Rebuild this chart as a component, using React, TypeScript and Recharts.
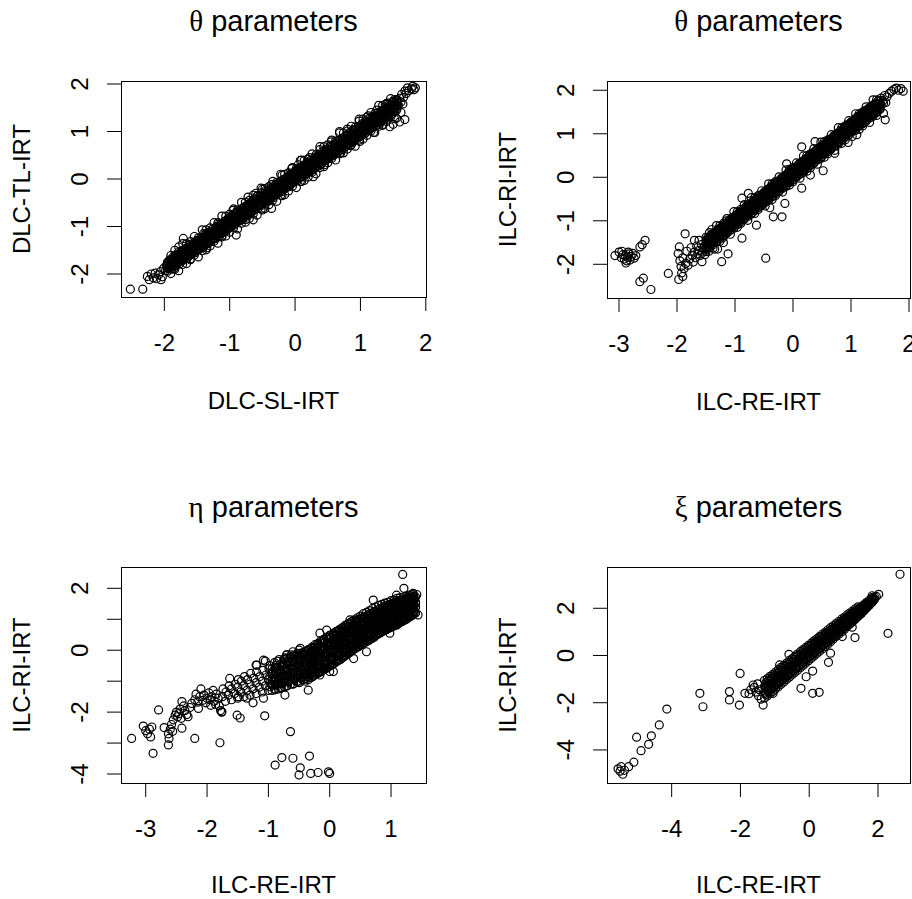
import { ScatterChart, Scatter, XAxis, YAxis } from 'recharts'

const FONT = '"Liberation Sans", Arial, Helvetica, sans-serif'
const GREEK_FONT = '"Liberation Serif", "DejaVu Serif", serif'

type Pt = [number, number]
type Col = [number, number[]]

// [x, y] pairs (loose points and the edges of the bands)

const THETA_DLC: Pt[] = [
  [-2.52, -2.32], [-2.33, -2.32], [-2.26, -2.05], [-2.23, -2.12], [-2.2, -2.0], [-2.17, -2.08], [-2.14, -1.98],
  [-2.12, -2.1], [-2.09, -2.02], [-2.06, -1.95], [-2.03, -2.06], [-2.01, -1.88], [-2.05, -2.12],
  [-1.71, -1.25], [-1.78, -1.43], [-1.75, -1.55], [-1.85, -1.88], [-1.6, -1.68], [-1.35, -1.45], [-1.12, -1.2],
  [-0.9, -1.18], [-0.64, -0.86], [-0.36, -0.62], [-0.75, -0.85], [-0.5, -0.65], [-0.2, -0.35], [0.1, -0.05],
  [0.28, 0.05], [0.45, 0.3], [0.7, 0.55], [0.85, 0.7], [0.99, 0.79], [1.2, 0.98], [1.35, 1.15], [1.45, 1.1],
  [1.5, 1.15], [1.55, 1.28], [1.6, 1.2], [1.62, 1.4], [1.68, 1.25],
  [-1.62, -1.38], [-1.4, -1.15], [-1.18, -0.92], [-0.95, -0.66], [-0.72, -0.38], [-0.6, -0.3], [-0.5, -0.22],
  [-0.36, -0.12], [-0.2, 0.08], [-0.05, 0.22], [0.05, 0.3], [0.1, 0.4], [0.22, 0.45], [0.38, 0.62],
  [0.55, 0.78], [0.68, 1.0], [0.8, 1.05], [0.98, 1.22], [1.12, 1.33], [1.25, 1.45], [1.38, 1.57],
  [1.42, 1.6], [1.5, 1.63], [1.55, 1.65],
  [1.6, 1.7], [1.63, 1.78], [1.66, 1.72], [1.68, 1.85], [1.7, 1.8], [1.72, 1.92], [1.74, 1.86], [1.78, 1.9],
  [1.8, 1.95], [1.82, 1.88], [1.84, 1.92], [1.62, 1.62], [1.58, 1.55], [1.65, 1.58],
  [-1.98, -1.93], [-1.97, -1.82], [-1.95, -1.76], [-1.93, -1.87], [-1.91, -1.78], [-1.89, -1.69], [-1.87, -1.83],
  [-1.85, -1.72], [-1.83, -1.6], [-1.81, -1.79], [-1.79, -1.67], [-1.77, -1.57], [-1.75, -1.71], [-1.73, -1.6],
  [-1.71, -1.5], [-1.69, -1.67], [-1.67, -1.54], [-1.65, -1.46], [-1.63, -1.62], [-1.61, -1.51], [-1.59, -1.42],
  [-1.57, -1.56], [-1.55, -1.45], [-1.53, -1.34], [-1.51, -1.51], [-1.49, -1.39], [-1.47, -1.29], [-1.45, -1.46],
  [-1.43, -1.34], [-1.41, -1.25], [-1.39, -1.41], [-1.37, -1.28], [-1.35, -1.17], [-1.33, -1.36], [-1.31, -1.23],
  [-1.29, -1.12], [-1.27, -1.29], [-1.25, -1.16], [-1.23, -1.07], [-1.21, -1.25], [-1.19, -1.11], [-1.17, -0.99],
  [-1.15, -1.19], [-1.13, -1.04], [-1.11, -0.94], [-1.09, -1.11], [-1.07, -0.98], [-1.05, -0.87], [-1.03, -1.06],
  [-1.01, -0.92], [-0.99, -0.81], [-0.97, -0.99], [-0.95, -0.86], [-0.93, -0.75], [-0.91, -0.93], [-0.89, -0.79],
  [-0.87, -0.69], [-0.85, -0.88], [-0.83, -0.74], [-0.81, -0.62], [-0.79, -0.81], [-0.77, -0.67], [-0.75, -0.57],
  [-0.73, -0.75], [-0.71, -0.61], [-0.69, -0.51], [-0.67, -0.7], [-0.65, -0.56], [-0.63, -0.43], [-0.61, -0.63],
  [-0.59, -0.49], [-0.57, -0.35], [-0.55, -0.56], [-0.53, -0.43], [-0.51, -0.29], [-0.49, -0.51], [-0.47, -0.37],
  [-0.45, -0.24], [-0.43, -0.46], [-0.41, -0.32], [-0.39, -0.21], [-0.37, -0.41], [-0.35, -0.27], [-0.33, -0.17],
  [-0.31, -0.34], [-0.29, -0.21], [-0.27, -0.11], [-0.25, -0.29], [-0.23, -0.15], [-0.21, -0.04], [-0.19, -0.23],
  [-0.17, -0.1], [-0.15, 0.01], [-0.13, -0.17], [-0.11, -0.03], [-0.09, 0.08], [-0.07, -0.12], [-0.05, 0.02],
  [-0.03, 0.13], [-0.01, -0.05], [0.01, 0.08], [0.03, 0.19], [0.05, 0.0], [0.07, 0.13], [0.09, 0.23],
  [0.11, 0.05], [0.13, 0.18], [0.15, 0.29], [0.17, 0.11], [0.19, 0.23], [0.21, 0.34], [0.23, 0.16],
  [0.25, 0.29], [0.27, 0.38], [0.29, 0.21], [0.31, 0.34], [0.33, 0.46], [0.35, 0.27], [0.37, 0.4],
  [0.39, 0.51], [0.41, 0.33], [0.43, 0.46], [0.45, 0.55], [0.47, 0.39], [0.49, 0.52], [0.51, 0.62],
  [0.53, 0.44], [0.55, 0.58], [0.57, 0.69], [0.59, 0.5], [0.61, 0.64], [0.63, 0.74], [0.65, 0.56],
  [0.67, 0.69], [0.69, 0.81], [0.71, 0.61], [0.73, 0.75], [0.75, 0.85], [0.77, 0.68], [0.79, 0.81],
  [0.81, 0.92], [0.83, 0.73], [0.85, 0.87], [0.87, 0.96], [0.89, 0.79], [0.91, 0.92], [0.93, 1.04],
  [0.95, 0.85], [0.97, 0.99], [0.99, 1.09], [1.01, 0.91], [1.03, 1.04], [1.05, 1.13], [1.07, 0.96],
  [1.09, 1.1], [1.11, 1.2], [1.13, 1.02], [1.15, 1.15], [1.17, 1.24], [1.19, 1.08], [1.21, 1.21],
  [1.23, 1.32], [1.25, 1.13], [1.27, 1.27], [1.29, 1.36], [1.31, 1.19], [1.33, 1.33], [1.35, 1.44],
  [1.37, 1.26], [1.39, 1.38], [1.41, 1.48], [1.43, 1.31], [1.45, 1.44], [1.47, 1.55], [1.49, 1.37],
  [1.51, 1.49], [1.53, 1.57], [1.55, 1.44], [1.57, 1.6],
]

// dense core: x, then the y values stacked at that x
const THETA_DLC_BAND: Col[] = [
  [-1.95, [-1.94, -1.88, -1.82, -1.75]], [-1.92, [-1.89, -1.83, -1.76, -1.7]], [-1.89, [-1.9, -1.83, -1.77, -1.71]],
  [-1.86, [-1.84, -1.78, -1.71, -1.63]], [-1.83, [-1.83, -1.77, -1.71, -1.64]], [-1.8, [-1.78, -1.72, -1.65, -1.59]],
  [-1.77, [-1.79, -1.72, -1.66, -1.6]], [-1.74, [-1.73, -1.67, -1.6, -1.52]], [-1.71, [-1.71, -1.65, -1.59, -1.52]],
  [-1.68, [-1.66, -1.6, -1.53, -1.47]], [-1.65, [-1.67, -1.6, -1.54, -1.48]], [-1.62, [-1.61, -1.55, -1.48, -1.4]],
  [-1.59, [-1.59, -1.53, -1.47, -1.4]], [-1.56, [-1.54, -1.48, -1.41, -1.35]], [-1.53, [-1.55, -1.48, -1.42, -1.36]],
  [-1.5, [-1.5, -1.44, -1.37, -1.29]], [-1.47, [-1.48, -1.42, -1.36, -1.29]], [-1.44, [-1.43, -1.37, -1.3, -1.24]],
  [-1.41, [-1.44, -1.37, -1.31, -1.25]], [-1.38, [-1.38, -1.32, -1.25, -1.17]], [-1.35, [-1.36, -1.3, -1.24, -1.17]],
  [-1.32, [-1.31, -1.25, -1.18, -1.12]], [-1.29, [-1.32, -1.25, -1.19, -1.13]], [-1.26, [-1.26, -1.2, -1.13, -1.05]],
  [-1.23, [-1.24, -1.18, -1.12, -1.05]], [-1.2, [-1.19, -1.13, -1.06, -1.0]], [-1.17, [-1.21, -1.14, -1.08, -1.02]],
  [-1.14, [-1.15, -1.09, -1.02, -0.94]], [-1.11, [-1.13, -1.07, -1.01, -0.94]], [-1.08, [-1.08, -1.02, -0.95, -0.89]],
  [-1.05, [-1.09, -1.02, -0.96, -0.9]], [-1.02, [-1.03, -0.97, -0.9, -0.82]], [-0.99, [-1.01, -0.95, -0.89, -0.82]],
  [-0.96, [-0.96, -0.9, -0.83, -0.77]], [-0.93, [-0.97, -0.9, -0.84, -0.78]], [-0.9, [-0.91, -0.85, -0.78, -0.7]],
  [-0.87, [-0.89, -0.83, -0.77, -0.7]], [-0.84, [-0.85, -0.79, -0.72, -0.66]], [-0.81, [-0.86, -0.79, -0.73, -0.67]],
  [-0.78, [-0.8, -0.74, -0.67, -0.59]], [-0.75, [-0.78, -0.72, -0.66, -0.59]], [-0.72, [-0.73, -0.67, -0.6, -0.54]],
  [-0.69, [-0.74, -0.67, -0.61, -0.55]], [-0.66, [-0.68, -0.62, -0.55, -0.47]], [-0.63, [-0.66, -0.6, -0.54, -0.47]],
  [-0.6, [-0.61, -0.55, -0.48, -0.42]], [-0.57, [-0.62, -0.55, -0.49, -0.43]], [-0.54, [-0.56, -0.5, -0.43, -0.35]],
  [-0.51, [-0.55, -0.49, -0.43, -0.36]], [-0.48, [-0.5, -0.44, -0.37, -0.31]], [-0.45, [-0.51, -0.44, -0.38, -0.32]],
  [-0.42, [-0.45, -0.39, -0.32, -0.24]], [-0.39, [-0.43, -0.37, -0.31, -0.24]], [-0.36, [-0.38, -0.32, -0.25, -0.19]],
  [-0.33, [-0.39, -0.32, -0.26, -0.2]], [-0.3, [-0.33, -0.27, -0.2, -0.12]], [-0.27, [-0.31, -0.25, -0.19, -0.12]],
  [-0.24, [-0.26, -0.2, -0.13, -0.07]], [-0.21, [-0.27, -0.2, -0.14, -0.08]], [-0.18, [-0.22, -0.16, -0.09, -0.01]],
  [-0.15, [-0.2, -0.14, -0.08, -0.01]], [-0.12, [-0.15, -0.09, -0.02, 0.04]], [-0.09, [-0.16, -0.09, -0.03, 0.03]],
  [-0.06, [-0.1, -0.04, 0.03, 0.11]], [-0.03, [-0.08, -0.02, 0.04, 0.11]], [0.0, [-0.03, 0.03, 0.1, 0.16]],
  [0.03, [-0.04, 0.03, 0.09, 0.15]], [0.06, [0.02, 0.08, 0.15, 0.23]], [0.09, [0.04, 0.1, 0.16, 0.23]],
  [0.12, [0.09, 0.15, 0.22, 0.28]], [0.15, [0.08, 0.15, 0.21, 0.27]], [0.18, [0.14, 0.2, 0.27, 0.35]],
  [0.21, [0.15, 0.21, 0.27, 0.34]], [0.24, [0.2, 0.26, 0.33, 0.39]], [0.27, [0.19, 0.26, 0.32, 0.38]],
  [0.3, [0.25, 0.31, 0.38, 0.46]], [0.33, [0.27, 0.33, 0.39, 0.46]], [0.36, [0.32, 0.38, 0.45, 0.51]],
  [0.39, [0.31, 0.38, 0.44, 0.5]], [0.42, [0.37, 0.43, 0.5, 0.58]], [0.45, [0.39, 0.45, 0.51, 0.58]],
  [0.48, [0.44, 0.5, 0.57, 0.63]], [0.51, [0.43, 0.5, 0.56, 0.62]], [0.54, [0.48, 0.54, 0.61, 0.69]],
  [0.57, [0.5, 0.56, 0.62, 0.69]], [0.6, [0.55, 0.61, 0.68, 0.74]], [0.63, [0.54, 0.61, 0.67, 0.73]],
  [0.66, [0.6, 0.66, 0.73, 0.81]], [0.69, [0.62, 0.68, 0.74, 0.81]], [0.72, [0.67, 0.73, 0.8, 0.86]],
  [0.75, [0.66, 0.73, 0.79, 0.85]], [0.78, [0.72, 0.78, 0.85, 0.93]], [0.81, [0.74, 0.8, 0.86, 0.93]],
  [0.84, [0.79, 0.85, 0.92, 0.98]], [0.87, [0.77, 0.84, 0.9, 0.96]], [0.9, [0.83, 0.89, 0.96, 1.04]],
  [0.93, [0.85, 0.91, 0.97, 1.04]], [0.96, [0.9, 0.96, 1.03, 1.09]], [0.99, [0.89, 0.96, 1.02, 1.08]],
  [1.02, [0.95, 1.01, 1.08, 1.16]], [1.05, [0.97, 1.03, 1.09, 1.16]], [1.08, [1.02, 1.08, 1.15, 1.21]],
  [1.11, [1.01, 1.08, 1.14, 1.2]], [1.14, [1.07, 1.13, 1.2, 1.28]], [1.17, [1.09, 1.15, 1.21, 1.28]],
  [1.2, [1.13, 1.19, 1.26, 1.32]], [1.23, [1.12, 1.19, 1.25, 1.31]], [1.26, [1.18, 1.24, 1.31, 1.39]],
  [1.29, [1.2, 1.26, 1.32, 1.39]], [1.32, [1.25, 1.31, 1.38, 1.44]], [1.35, [1.24, 1.31, 1.37, 1.43]],
  [1.38, [1.3, 1.36, 1.43, 1.51]], [1.41, [1.32, 1.38, 1.44, 1.51]], [1.44, [1.37, 1.43, 1.5, 1.56]],
  [1.47, [1.36, 1.43, 1.49, 1.55]], [1.5, [1.42, 1.48, 1.55, 1.63]], [1.53, [1.43, 1.49, 1.55, 1.62]],
  [1.56, [1.48, 1.54, 1.61, 1.67]],
]

// ragged lower / upper fringe of the band
const THETA_DLC_EDGE: Col[] = [
  [-1.9, [-1.99, -1.61]], [-1.84, [-1.9, -1.5]], [-1.78, [-1.93, -1.53]], [-1.72, [-1.8, -1.36]], [-1.66, [-1.78, -1.36]],
  [-1.6, [-1.7, -1.32]], [-1.54, [-1.6, -1.21]], [-1.48, [-1.64, -1.24]], [-1.42, [-1.51, -1.07]], [-1.36, [-1.49, -1.07]],
  [-1.3, [-1.41, -1.03]], [-1.24, [-1.31, -0.92]], [-1.18, [-1.35, -0.95]], [-1.12, [-1.22, -0.78]], [-1.06, [-1.2, -0.78]],
  [-1.0, [-1.12, -0.74]], [-0.94, [-1.02, -0.63]], [-0.88, [-1.05, -0.65]], [-0.82, [-0.93, -0.49]], [-0.76, [-0.91, -0.49]],
  [-0.7, [-0.83, -0.45]], [-0.64, [-0.73, -0.34]], [-0.58, [-0.76, -0.36]], [-0.52, [-0.63, -0.19]], [-0.46, [-0.62, -0.2]],
  [-0.4, [-0.54, -0.16]], [-0.34, [-0.44, -0.05]], [-0.28, [-0.47, -0.07]], [-0.22, [-0.34, 0.1]], [-0.16, [-0.33, 0.1]],
  [-0.1, [-0.25, 0.13]], [-0.04, [-0.15, 0.24]], [0.02, [-0.18, 0.22]], [0.08, [-0.05, 0.39]], [0.14, [-0.03, 0.39]],
  [0.2, [0.04, 0.42]], [0.26, [0.14, 0.53]], [0.32, [0.11, 0.51]], [0.38, [0.24, 0.68]], [0.44, [0.26, 0.68]],
  [0.5, [0.34, 0.72]], [0.56, [0.43, 0.82]], [0.62, [0.4, 0.8]], [0.68, [0.53, 0.97]], [0.74, [0.55, 0.97]],
  [0.8, [0.63, 1.01]], [0.86, [0.72, 1.11]], [0.92, [0.69, 1.09]], [0.98, [0.82, 1.26]], [1.04, [0.84, 1.26]],
  [1.1, [0.92, 1.3]], [1.16, [1.01, 1.4]], [1.22, [0.98, 1.38]], [1.28, [1.11, 1.55]], [1.34, [1.13, 1.55]],
  [1.4, [1.21, 1.59]], [1.46, [1.3, 1.69]], [1.52, [1.27, 1.67]],
]

const THETA_ILC: Pt[] = [
  [-3.07, -1.8], [-3.0, -1.72], [-2.96, -1.85], [-2.93, -1.78], [-2.91, -1.88], [-2.89, -1.8], [-2.87, -1.92],
  [-2.85, -1.84], [-2.83, -1.76], [-2.81, -1.9], [-2.79, -1.82], [-2.76, -1.75], [-2.74, -1.86], [-2.71, -1.8],
  [-2.88, -1.97], [-2.95, -1.7], [-2.84, -1.72], [-2.64, -1.6], [-2.6, -1.55], [-2.55, -1.45],
  [-2.64, -2.4], [-2.58, -2.32], [-2.45, -2.58], [-2.15, -2.21],
  [-1.98, -1.75], [-1.96, -1.6], [-1.95, -1.92], [-1.93, -2.05], [-1.92, -2.2], [-1.9, -1.85], [-1.88, -2.1],
  [-1.86, -1.3], [-1.85, -1.98], [-1.83, -1.7], [-1.81, -2.02], [-1.78, -1.88], [-1.76, -1.62], [-1.74, -1.8],
  [-1.72, -1.95], [-1.7, -1.72], [-1.68, -1.85], [-1.66, -1.58], [-1.64, -1.76], [-1.62, -1.68], [-1.6, -1.8],
  [-1.58, -1.55], [-1.56, -1.72], [-1.54, -1.62], [-1.52, -1.78], [-1.97, -2.35], [-1.9, -2.28], [-1.7, -1.45],
  [-1.62, -1.45], [-1.45, -1.7], [-1.35, -1.65], [-1.4, -1.2], [-1.2, -1.5], [-1.15, -1.0],
  [1.47, 1.75], [1.52, 1.82], [1.55, 1.76], [1.58, 1.88], [1.62, 1.85], [1.66, 1.93], [1.7, 1.98], [1.74, 2.02],
  [1.78, 2.05], [1.82, 2.0], [1.86, 2.04], [1.9, 1.98], [1.56, 1.7], [1.6, 1.72],
  [1.59, 1.32], [1.56, 1.47], [0.52, 0.15], [0.15, -0.25], [-0.14, -0.6], [-0.34, -0.91], [-0.19, -0.91],
  [-0.47, -1.86], [-0.63, -1.1], [-0.88, -1.4], [-1.23, -1.94], [-1.12, -1.76], [-1.57, -1.94], [-0.88, -0.48],
  [-0.77, -0.37], [-0.11, 0.31], [0.38, 0.82], [0.15, 0.7], [0.72, 0.55], [1.1, 0.98], [0.95, 0.8],
  [-0.4, -0.7], [-1.3, -1.65], [0.3, 0.05],
  [-1.5, -1.66], [-1.48, -1.51], [-1.46, -1.4], [-1.44, -1.61], [-1.42, -1.45], [-1.4, -1.33], [-1.38, -1.55],
  [-1.36, -1.38], [-1.34, -1.26], [-1.32, -1.48], [-1.3, -1.33], [-1.28, -1.19], [-1.26, -1.42], [-1.24, -1.25],
  [-1.22, -1.13], [-1.2, -1.35], [-1.18, -1.2], [-1.16, -1.06], [-1.14, -1.28], [-1.12, -1.13], [-1.1, -1.0],
  [-1.08, -1.22], [-1.06, -1.06], [-1.04, -0.93], [-1.02, -1.16], [-1.0, -0.99], [-0.98, -0.87], [-0.96, -1.09],
  [-0.94, -0.94], [-0.92, -0.8], [-0.9, -1.03], [-0.88, -0.87], [-0.86, -0.74], [-0.84, -0.96], [-0.82, -0.81],
  [-0.8, -0.67], [-0.78, -0.9], [-0.76, -0.74], [-0.74, -0.61], [-0.72, -0.83], [-0.7, -0.68], [-0.68, -0.54],
  [-0.66, -0.77], [-0.64, -0.61], [-0.62, -0.48], [-0.6, -0.7], [-0.58, -0.55], [-0.56, -0.41], [-0.54, -0.64],
  [-0.52, -0.49], [-0.5, -0.35], [-0.48, -0.58], [-0.46, -0.42], [-0.44, -0.28], [-0.42, -0.51], [-0.4, -0.36],
  [-0.38, -0.22], [-0.36, -0.45], [-0.34, -0.29], [-0.32, -0.15], [-0.3, -0.38], [-0.28, -0.23], [-0.26, -0.09],
  [-0.24, -0.32], [-0.22, -0.16], [-0.2, -0.02], [-0.18, -0.25], [-0.16, -0.1], [-0.14, 0.04], [-0.12, -0.19],
  [-0.1, -0.03], [-0.08, 0.11], [-0.06, -0.12], [-0.04, 0.03], [-0.02, 0.17], [0.0, -0.06], [0.02, 0.1],
  [0.04, 0.23], [0.06, 0.01], [0.08, 0.16], [0.1, 0.3], [0.12, 0.07], [0.14, 0.23], [0.16, 0.36],
  [0.18, 0.14], [0.2, 0.29], [0.22, 0.43], [0.24, 0.2], [0.26, 0.36], [0.28, 0.49], [0.3, 0.27],
  [0.32, 0.42], [0.34, 0.56], [0.36, 0.33], [0.38, 0.49], [0.4, 0.62], [0.42, 0.4], [0.44, 0.55],
  [0.46, 0.69], [0.48, 0.46], [0.5, 0.62], [0.52, 0.75], [0.54, 0.53], [0.56, 0.68], [0.58, 0.82],
  [0.6, 0.59], [0.62, 0.75], [0.64, 0.88], [0.66, 0.66], [0.68, 0.81], [0.7, 0.95], [0.72, 0.72],
  [0.74, 0.88], [0.76, 1.01], [0.78, 0.79], [0.8, 0.94], [0.82, 1.08], [0.84, 0.85], [0.86, 1.01],
  [0.88, 1.14], [0.9, 0.92], [0.92, 1.07], [0.94, 1.21], [0.96, 0.98], [0.98, 1.14], [1.0, 1.27],
  [1.02, 1.05], [1.04, 1.2], [1.06, 1.34], [1.08, 1.11], [1.1, 1.27], [1.12, 1.4], [1.14, 1.18],
  [1.16, 1.33], [1.18, 1.47], [1.2, 1.24], [1.22, 1.4], [1.24, 1.53], [1.26, 1.31], [1.28, 1.46],
  [1.3, 1.58], [1.32, 1.37], [1.34, 1.52], [1.36, 1.63], [1.38, 1.43], [1.4, 1.58], [1.42, 1.68],
  [1.44, 1.5], [1.46, 1.62], [1.48, 1.7], [1.5, 1.56], [1.52, 1.66],
]

const THETA_ILC_BAND: Col[] = [
  [-1.5, [-1.64, -1.58, -1.52, -1.45]], [-1.47, [-1.58, -1.52, -1.45, -1.39]], [-1.44, [-1.59, -1.52, -1.46, -1.4]],
  [-1.41, [-1.53, -1.47, -1.4, -1.32]], [-1.38, [-1.51, -1.45, -1.39, -1.32]], [-1.35, [-1.46, -1.4, -1.33, -1.27]],
  [-1.32, [-1.46, -1.39, -1.33, -1.27]], [-1.29, [-1.4, -1.34, -1.27, -1.19]], [-1.26, [-1.38, -1.32, -1.26, -1.19]],
  [-1.23, [-1.33, -1.27, -1.2, -1.14]], [-1.2, [-1.33, -1.26, -1.2, -1.14]], [-1.17, [-1.27, -1.21, -1.14, -1.06]],
  [-1.14, [-1.25, -1.19, -1.13, -1.06]], [-1.11, [-1.2, -1.14, -1.07, -1.01]], [-1.08, [-1.21, -1.14, -1.08, -1.02]],
  [-1.05, [-1.14, -1.08, -1.01, -0.93]], [-1.02, [-1.12, -1.06, -1.0, -0.93]], [-0.99, [-1.07, -1.01, -0.94, -0.88]],
  [-0.96, [-1.08, -1.01, -0.95, -0.89]], [-0.93, [-1.02, -0.96, -0.89, -0.81]], [-0.9, [-0.99, -0.93, -0.87, -0.8]],
  [-0.87, [-0.94, -0.88, -0.81, -0.75]], [-0.84, [-0.95, -0.88, -0.82, -0.76]], [-0.81, [-0.89, -0.83, -0.76, -0.68]],
  [-0.78, [-0.87, -0.81, -0.75, -0.68]], [-0.75, [-0.81, -0.75, -0.68, -0.62]], [-0.72, [-0.82, -0.75, -0.69, -0.63]],
  [-0.69, [-0.76, -0.7, -0.63, -0.55]], [-0.66, [-0.74, -0.68, -0.62, -0.55]], [-0.63, [-0.68, -0.62, -0.55, -0.49]],
  [-0.6, [-0.69, -0.62, -0.56, -0.5]], [-0.57, [-0.63, -0.57, -0.5, -0.42]], [-0.54, [-0.61, -0.55, -0.49, -0.42]],
  [-0.51, [-0.56, -0.5, -0.43, -0.37]], [-0.48, [-0.56, -0.49, -0.43, -0.37]], [-0.45, [-0.5, -0.44, -0.37, -0.29]],
  [-0.42, [-0.48, -0.42, -0.36, -0.29]], [-0.39, [-0.43, -0.37, -0.3, -0.24]], [-0.36, [-0.44, -0.37, -0.31, -0.25]],
  [-0.33, [-0.37, -0.31, -0.24, -0.16]], [-0.3, [-0.35, -0.29, -0.23, -0.16]], [-0.27, [-0.3, -0.24, -0.17, -0.11]],
  [-0.24, [-0.31, -0.24, -0.18, -0.12]], [-0.21, [-0.25, -0.19, -0.12, -0.04]], [-0.18, [-0.22, -0.16, -0.1, -0.03]],
  [-0.15, [-0.17, -0.11, -0.04, 0.02]], [-0.12, [-0.18, -0.11, -0.05, 0.01]], [-0.09, [-0.12, -0.06, 0.01, 0.09]],
  [-0.06, [-0.09, -0.03, 0.03, 0.1]], [-0.03, [-0.04, 0.02, 0.09, 0.15]], [0.0, [-0.05, 0.02, 0.08, 0.14]],
  [0.03, [0.01, 0.07, 0.14, 0.22]], [0.06, [0.03, 0.09, 0.15, 0.22]], [0.09, [0.09, 0.15, 0.22, 0.28]],
  [0.12, [0.08, 0.15, 0.21, 0.27]], [0.15, [0.14, 0.2, 0.27, 0.35]], [0.18, [0.16, 0.22, 0.28, 0.35]],
  [0.21, [0.22, 0.28, 0.35, 0.41]], [0.24, [0.21, 0.28, 0.34, 0.4]], [0.27, [0.27, 0.33, 0.4, 0.48]],
  [0.3, [0.29, 0.35, 0.41, 0.48]], [0.33, [0.34, 0.4, 0.47, 0.53]], [0.36, [0.34, 0.41, 0.47, 0.53]],
  [0.39, [0.4, 0.46, 0.53, 0.61]], [0.42, [0.42, 0.48, 0.54, 0.61]], [0.45, [0.47, 0.53, 0.6, 0.66]],
  [0.48, [0.46, 0.53, 0.59, 0.65]], [0.51, [0.53, 0.59, 0.66, 0.74]], [0.54, [0.55, 0.61, 0.67, 0.74]],
  [0.57, [0.6, 0.66, 0.73, 0.79]], [0.6, [0.59, 0.66, 0.72, 0.78]], [0.63, [0.65, 0.71, 0.78, 0.86]],
  [0.66, [0.68, 0.74, 0.8, 0.87]], [0.69, [0.73, 0.79, 0.86, 0.92]], [0.72, [0.72, 0.79, 0.85, 0.91]],
  [0.75, [0.78, 0.84, 0.91, 0.99]], [0.78, [0.81, 0.87, 0.93, 1.0]], [0.81, [0.86, 0.92, 0.99, 1.05]],
  [0.84, [0.85, 0.92, 0.98, 1.04]], [0.87, [0.91, 0.97, 1.04, 1.12]], [0.9, [0.93, 0.99, 1.05, 1.12]],
  [0.93, [0.99, 1.05, 1.12, 1.18]], [0.96, [0.98, 1.05, 1.11, 1.17]], [0.99, [1.04, 1.1, 1.17, 1.25]],
  [1.02, [1.06, 1.12, 1.18, 1.25]], [1.05, [1.11, 1.17, 1.24, 1.3]], [1.08, [1.11, 1.18, 1.24, 1.3]],
  [1.11, [1.17, 1.23, 1.3, 1.38]], [1.14, [1.19, 1.25, 1.31, 1.38]], [1.17, [1.24, 1.3, 1.37, 1.43]],
  [1.2, [1.23, 1.3, 1.36, 1.42]], [1.23, [1.3, 1.36, 1.43, 1.51]], [1.26, [1.32, 1.38, 1.44, 1.51]],
  [1.29, [1.37, 1.43, 1.5, 1.56]], [1.32, [1.36, 1.43, 1.49, 1.55]], [1.35, [1.43, 1.49, 1.56, 1.64]],
  [1.38, [1.45, 1.51, 1.57, 1.64]], [1.41, [1.5, 1.56, 1.63, 1.69]], [1.44, [1.49, 1.56, 1.62, 1.68]],
  [1.47, [1.55, 1.61, 1.68, 1.76]], [1.5, [1.58, 1.64, 1.7, 1.77]],
]

const THETA_ILC_EDGE: Col[] = [
  [-1.5, [-1.71, -1.38]], [-1.44, [-1.6, -1.27]], [-1.38, [-1.63, -1.29]], [-1.32, [-1.49, -1.11]], [-1.26, [-1.47, -1.11]],
  [-1.2, [-1.38, -1.06]], [-1.14, [-1.28, -0.95]], [-1.08, [-1.31, -0.97]], [-1.02, [-1.17, -0.79]], [-0.96, [-1.15, -0.79]],
  [-0.9, [-1.06, -0.74]], [-0.84, [-0.96, -0.63]], [-0.78, [-0.99, -0.64]], [-0.72, [-0.85, -0.47]], [-0.66, [-0.83, -0.47]],
  [-0.6, [-0.74, -0.42]], [-0.54, [-0.64, -0.31]], [-0.48, [-0.66, -0.32]], [-0.42, [-0.53, -0.15]], [-0.36, [-0.51, -0.15]],
  [-0.3, [-0.42, -0.1]], [-0.24, [-0.32, 0.01]], [-0.18, [-0.34, 0.0]], [-0.12, [-0.21, 0.17]], [-0.06, [-0.18, 0.18]],
  [0.0, [-0.1, 0.22]], [0.06, [0.0, 0.33]], [0.12, [-0.02, 0.32]], [0.18, [0.11, 0.49]], [0.24, [0.14, 0.5]],
  [0.3, [0.22, 0.54]], [0.36, [0.33, 0.66]], [0.42, [0.3, 0.64]], [0.48, [0.43, 0.81]], [0.54, [0.46, 0.82]],
  [0.6, [0.54, 0.86]], [0.66, [0.65, 0.98]], [0.72, [0.62, 0.96]], [0.78, [0.76, 1.14]], [0.84, [0.78, 1.14]],
  [0.9, [0.86, 1.18]], [0.96, [0.97, 1.3]], [1.02, [0.94, 1.28]], [1.08, [1.08, 1.46]], [1.14, [1.1, 1.46]],
  [1.2, [1.18, 1.5]], [1.26, [1.29, 1.62]], [1.32, [1.26, 1.6]], [1.38, [1.4, 1.78]], [1.44, [1.42, 1.78]],
]

const ETA_ILC: Pt[] = [
  [1.19, 2.45], [1.21, 2.0], [1.44, 1.14], [1.09, 0.81], [0.98, 0.55], [0.39, -0.27], [0.06, -0.69],
  [1.36, 1.84], [1.09, 1.78], [0.71, 1.62], [0.33, 0.98], [-0.05, 0.65], [-0.16, 0.55], [-0.48, 0.06],
  [-0.7, -0.15], [-0.9, -0.4], [-1.08, -0.32], [-1.19, -0.48], [-1.63, -0.91], [0.6, -0.05], [0.0, -0.69],
  [-0.16, -0.8], [-0.35, -1.29], [-0.73, -1.45], [-1.08, -1.55], [-1.25, -1.7], [-1.35, -1.55], [-1.49, -1.5],
  [-1.76, -1.99], [1.38, 1.65], [1.42, 1.8], [1.4, 1.5], [1.35, 1.38],
  [-3.23, -2.85], [-3.04, -2.45], [-3.0, -2.6], [-2.97, -2.7], [-2.94, -2.55], [-2.92, -2.8], [-2.9, -2.48],
  [-2.88, -3.33], [-2.79, -1.93], [-2.63, -3.06], [-2.63, -2.7], [-2.6, -2.55], [-2.58, -2.4], [-2.55, -2.25],
  [-2.52, -2.1], [-2.5, -2.0], [-2.48, -2.15], [-2.46, -2.05], [-2.44, -1.9], [-2.42, -2.2], [-2.41, -2.52],
  [-2.41, -1.66], [-2.38, -1.8], [-2.36, -1.95], [-2.33, -2.08], [-2.31, -2.15], [-2.28, -1.85], [-2.25, -1.72],
  [-2.2, -2.85], [-2.62, -2.85], [-2.56, -2.62], [-2.7, -2.5], [-1.79, -2.99], [-1.51, -2.1], [-1.46, -2.19],
  [-1.06, -2.12], [-0.64, -2.63], [-0.89, -3.71], [-0.78, -3.47], [-0.6, -3.49], [-0.33, -3.42], [-0.48, -3.8],
  [-0.5, -4.03], [-0.31, -3.98], [-0.19, -3.95], [0.0, -3.98], [-0.02, -3.93],
  [-1.82, -1.55], [-1.85, -1.42], [-1.88, -1.65], [-1.9, -1.3], [-1.92, -1.5], [-1.95, -1.6], [-1.97, -1.38],
  [-2.0, -1.55], [-2.02, -1.7], [-2.05, -1.45], [-2.07, -1.62], [-2.1, -1.25], [-2.12, -1.5], [-2.15, -1.68],
  [-2.18, -1.42], [-1.8, -1.8], [-1.78, -1.95], [-1.76, -2.0], [-1.86, -1.75], [-1.94, -1.78], [-2.14, -1.88],
  [-2.2, -1.6],
  [-1.75, -1.5], [-1.74, -1.25], [-1.7, -1.65], [-1.69, -1.35], [-1.65, -1.45], [-1.64, -1.15], [-1.6, -1.6],
  [-1.6, -1.25], [-1.55, -1.4], [-1.54, -1.1], [-1.5, -1.55], [-1.5, -1.2], [-1.49, -0.95], [-1.45, -1.35],
  [-1.44, -1.0], [-1.4, -1.5], [-1.4, -1.15], [-1.39, -0.85], [-1.35, -1.3], [-1.34, -0.95], [-1.3, -1.45],
  [-1.3, -1.1], [-1.29, -0.75], [-1.25, -1.25], [-1.24, -0.9], [-1.2, -1.4], [-1.2, -1.05], [-1.19, -0.7],
  [-1.2, -0.48], [-1.15, -1.2], [-1.14, -0.85], [-1.1, -1.35], [-1.1, -1.0], [-1.09, -0.65], [-1.05, -1.15],
  [-1.04, -0.8], [-1.05, -0.35], [-1.0, -1.3], [-1.0, -0.95], [-0.99, -0.6], [-0.95, -1.1], [-0.94, -0.75],
  [-0.9, -1.25], [-0.9, -0.9], [-0.89, -0.55], [-0.85, -1.05], [-0.84, -0.7], [-0.85, -0.35], [-0.8, -1.2],
  [-0.8, -0.85], [-0.79, -0.5], [-0.75, -1.0], [-0.74, -0.65], [-0.75, -0.3], [-0.7, -1.15], [-0.7, -0.8],
  [-0.69, -0.45], [-0.7, -0.15], [-0.65, -0.95], [-0.64, -0.6], [-0.65, -0.25], [-0.6, -1.1], [-0.6, -0.75],
  [-0.59, -0.4], [-0.6, -0.05], [-0.55, -0.9], [-0.54, -0.55], [-0.55, -0.2], [-0.5, -1.05], [-0.5, -0.7],
  [-0.49, -0.35], [-0.5, 0.0], [-0.45, -0.85], [-0.44, -0.5], [-0.45, -0.15], [-0.4, -1.0], [-0.4, -0.65],
  [-0.39, -0.3], [-0.4, -0.05], [-0.35, -0.95], [-0.34, -0.55], [-0.35, -0.2], [-0.35, 0.02],
  [-0.27, -0.72], [-0.22, -0.42], [-0.17, -0.08], [-0.12, -0.52], [-0.07, -0.2], [-0.02, 0.12], [0.03, -0.35],
  [0.08, 0.0], [0.13, 0.3], [0.18, -0.12], [0.23, 0.18], [0.28, 0.5], [0.33, 0.1], [0.38, 0.4],
  [0.43, 0.68], [0.48, 0.28], [0.53, 0.58], [0.58, 0.88], [0.63, 0.45], [0.68, 0.75], [0.73, 1.05],
  [0.78, 0.65], [0.83, 0.92], [0.88, 1.2], [0.93, 0.8], [0.98, 1.08], [1.03, 1.32], [1.08, 0.95],
  [1.13, 1.22], [1.18, 1.48], [1.23, 1.1], [1.28, 1.35], [1.33, 1.6], [1.38, 1.28],
]

const ETA_BAND: Col[] = [
  [-0.975, [-1.18, -0.85, -0.5]], [-0.925, [-1.0, -0.68]], [-0.875, [-1.12, -0.8, -0.48]], [-0.825, [-0.95, -0.62, -0.3]],
  [-0.775, [-1.08, -0.75, -0.42]], [-0.725, [-0.9, -0.58, -0.25]], [-0.675, [-1.02, -0.68, -0.35]],
  [-0.625, [-0.85, -0.5, -0.15]], [-0.575, [-0.95, -0.62, -0.28]], [-0.525, [-0.8, -0.45, -0.1]],
  [-0.475, [-0.9, -0.55, -0.2]], [-0.425, [-0.75, -0.4, -0.08]], [-0.375, [-0.85, -0.48, -0.15]],
  [-0.325, [-0.8, -0.45, -0.1]],
  [-0.3, [-0.88, -0.62, -0.38, -0.12, 0.05]], [-0.275, [-0.85, -0.72, -0.5, -0.25, -0.02]],
  [-0.25, [-0.8, -0.55, -0.3, -0.05, 0.1]], [-0.225, [-0.78, -0.65, -0.42, -0.18, 0.05]],
  [-0.2, [-0.75, -0.5, -0.25, 0.0, 0.18]], [-0.175, [-0.72, -0.6, -0.35, -0.1, 0.15]],
  [-0.15, [-0.7, -0.45, -0.18, 0.08, 0.3]], [-0.125, [-0.66, -0.52, -0.28, -0.02, 0.22]],
  [-0.1, [-0.62, -0.4, -0.12, 0.12, 0.35]], [-0.075, [-0.6, -0.45, -0.22, 0.05, 0.28]],
  [-0.05, [-0.58, -0.32, -0.05, 0.2, 0.42]], [-0.025, [-0.55, -0.4, -0.15, 0.12, 0.35]],
  [0.0, [-0.5, -0.25, 0.02, 0.25, 0.48]], [0.025, [-0.48, -0.32, -0.08, 0.18, 0.4]],
  [0.05, [-0.45, -0.2, 0.08, 0.3, 0.52]], [0.075, [-0.42, -0.28, -0.02, 0.22, 0.45]],
  [0.1, [-0.38, -0.12, 0.15, 0.38, 0.6]], [0.125, [-0.35, -0.2, 0.05, 0.28, 0.5]],
  [0.15, [-0.32, -0.05, 0.2, 0.45, 0.65]], [0.175, [-0.3, -0.15, 0.1, 0.35, 0.56]],
  [0.2, [-0.25, 0.02, 0.28, 0.5, 0.72]], [0.225, [-0.22, -0.08, 0.18, 0.42, 0.62]],
  [0.25, [-0.18, 0.08, 0.32, 0.58, 0.8]], [0.275, [-0.15, 0.0, 0.25, 0.48, 0.7]],
  [0.3, [-0.1, 0.15, 0.4, 0.65, 0.85]], [0.325, [-0.08, 0.05, 0.3, 0.55, 0.75]],
  [0.35, [-0.02, 0.22, 0.45, 0.7, 0.92]], [0.375, [0.0, 0.12, 0.38, 0.6, 0.82]],
  [0.4, [0.05, 0.28, 0.52, 0.75, 0.98]], [0.425, [0.06, 0.18, 0.42, 0.65, 0.88]],
  [0.45, [0.1, 0.35, 0.58, 0.82, 1.05]], [0.475, [0.12, 0.25, 0.48, 0.72, 0.95]],
  [0.5, [0.18, 0.4, 0.65, 0.88, 1.1]], [0.525, [0.18, 0.3, 0.55, 0.78, 1.0]],
  [0.55, [0.22, 0.48, 0.7, 0.95, 1.18]], [0.575, [0.25, 0.38, 0.6, 0.85, 1.06]],
  [0.6, [0.3, 0.52, 0.78, 1.0, 1.22]], [0.625, [0.3, 0.42, 0.68, 0.9, 1.12]],
  [0.65, [0.35, 0.6, 0.82, 1.08, 1.28]], [0.675, [0.36, 0.5, 0.72, 0.95, 1.18]],
  [0.7, [0.4, 0.65, 0.9, 1.12, 1.35]], [0.725, [0.42, 0.55, 0.8, 1.02, 1.25]],
  [0.75, [0.48, 0.72, 0.95, 1.18, 1.4]], [0.775, [0.5, 0.62, 0.85, 1.08, 1.3]],
  [0.8, [0.55, 0.78, 1.0, 1.22, 1.45]], [0.825, [0.56, 0.68, 0.9, 1.12, 1.35]],
  [0.85, [0.6, 0.82, 1.05, 1.28, 1.48]], [0.875, [0.62, 0.72, 0.95, 1.18, 1.4]],
  [0.9, [0.65, 0.88, 1.1, 1.32, 1.52]], [0.925, [0.66, 0.78, 1.0, 1.22, 1.45]],
  [0.95, [0.7, 0.92, 1.15, 1.38, 1.55]], [0.975, [0.72, 0.82, 1.05, 1.28, 1.48]],
  [1.0, [0.75, 0.98, 1.2, 1.42, 1.6]], [1.025, [0.76, 0.88, 1.1, 1.32, 1.52]],
  [1.05, [0.8, 1.02, 1.25, 1.45, 1.62]], [1.075, [0.82, 0.92, 1.15, 1.38, 1.56]],
  [1.1, [0.85, 1.08, 1.3, 1.5, 1.68]], [1.125, [0.86, 0.98, 1.2, 1.42, 1.6]],
  [1.15, [0.9, 1.12, 1.35, 1.55, 1.7]], [1.175, [0.92, 1.02, 1.25, 1.45, 1.63]],
  [1.2, [0.95, 1.18, 1.38, 1.58, 1.72]], [1.225, [0.98, 1.08, 1.28, 1.48, 1.66]],
  [1.25, [1.0, 1.22, 1.42, 1.62, 1.75]], [1.275, [1.04, 1.15, 1.32, 1.52, 1.7]],
  [1.3, [1.08, 1.28, 1.48, 1.65, 1.78]], [1.325, [1.1, 1.22, 1.4, 1.58, 1.72]],
  [1.35, [1.15, 1.32, 1.52, 1.7, 1.8]], [1.375, [1.18, 1.25, 1.45, 1.62, 1.75]],
  [1.4, [1.2, 1.38, 1.55, 1.72]],
]

// extra stacks that fill the solid cloud, middle and upper right
const ETA_FILL: Col[] = [
  [-0.94, [-1.3, -1.13, -0.96, -0.78, -0.6]],
  [-0.89, [-1.28, -1.1, -0.93, -0.76, -0.58]],
  [-0.84, [-1.25, -1.07, -0.9, -0.73, -0.55]],
  [-0.79, [-1.22, -1.04, -0.87, -0.7, -0.52]],
  [-0.74, [-1.18, -1.0, -0.83, -0.66, -0.48, -0.3]],
  [-0.69, [-1.15, -0.97, -0.8, -0.62, -0.44, -0.26]],
  [-0.64, [-1.1, -0.93, -0.76, -0.58, -0.4, -0.22]],
  [-0.59, [-1.08, -0.9, -0.72, -0.54, -0.36, -0.18]],
  [-0.54, [-1.03, -0.86, -0.68, -0.5, -0.32, -0.15]],
  [-0.49, [-1.0, -0.82, -0.64, -0.46, -0.28, -0.1]],
  [-0.44, [-0.95, -0.78, -0.6, -0.42, -0.24, -0.08]],
  [-0.39, [-0.92, -0.74, -0.56, -0.38, -0.2, -0.04]],
  [-0.34, [-0.88, -0.7, -0.52, -0.34, -0.16, 0.0]],
  [-0.29, [-0.82, -0.7, -0.59, -0.47, -0.36, -0.24, -0.13, -0.01, 0.1]],
  [-0.24, [-0.72, -0.61, -0.49, -0.38, -0.26, -0.15, -0.03, 0.08, 0.18]],
  [-0.19, [-0.69, -0.57, -0.46, -0.34, -0.23, -0.11, 0.0, 0.12, 0.22]],
  [-0.14, [-0.58, -0.47, -0.35, -0.24, -0.12, -0.01, 0.11, 0.22, 0.3]],
  [-0.09, [-0.56, -0.44, -0.33, -0.21, -0.1, 0.02, 0.13, 0.25, 0.35]],
  [-0.04, [-0.45, -0.34, -0.22, -0.11, 0.01, 0.12, 0.24, 0.35, 0.42]],
  [0.01, [-0.43, -0.31, -0.2, -0.08, 0.03, 0.15, 0.26, 0.38, 0.48]],
  [0.06, [-0.32, -0.21, -0.09, 0.02, 0.14, 0.25, 0.37, 0.48, 0.55]],
  [0.11, [-0.3, -0.18, -0.07, 0.05, 0.16, 0.28, 0.39, 0.51, 0.6]],
  [0.16, [-0.19, -0.08, 0.04, 0.15, 0.27, 0.38, 0.5, 0.61, 0.67]],
  [0.21, [-0.17, -0.05, 0.06, 0.18, 0.29, 0.41, 0.52, 0.64, 0.72]],
  [0.26, [-0.06, 0.05, 0.17, 0.28, 0.4, 0.51, 0.63, 0.74, 0.8]],
  [0.31, [-0.04, 0.08, 0.19, 0.31, 0.42, 0.54, 0.65, 0.77, 0.85]],
  [0.36, [0.07, 0.18, 0.3, 0.41, 0.53, 0.64, 0.76, 0.87, 0.92]],
  [0.41, [0.12, 0.24, 0.35, 0.47, 0.58, 0.7, 0.81, 0.93]],
  [0.46, [0.22, 0.33, 0.45, 0.56, 0.68, 0.79, 0.91, 0.99]],
  [0.51, [0.23, 0.35, 0.46, 0.58, 0.69, 0.81, 0.92, 1.03]],
  [0.56, [0.33, 0.44, 0.56, 0.67, 0.79, 0.9, 1.02, 1.08]],
  [0.61, [0.34, 0.46, 0.57, 0.69, 0.8, 0.92, 1.03, 1.12]],
  [0.66, [0.44, 0.55, 0.67, 0.78, 0.9, 1.01, 1.13, 1.18]],
  [0.71, [0.45, 0.57, 0.68, 0.8, 0.91, 1.03, 1.14, 1.22]],
  [0.76, [0.55, 0.66, 0.78, 0.89, 1.01, 1.12, 1.24]],
  [0.81, [0.56, 0.68, 0.79, 0.91, 1.02, 1.14, 1.25]],
  [0.86, [0.66, 0.77, 0.89, 1.0, 1.12, 1.23, 1.33]],
  [0.91, [0.67, 0.79, 0.9, 1.02, 1.13, 1.25, 1.36]],
  [0.96, [0.77, 0.88, 1.0, 1.11, 1.23, 1.34, 1.42]],
  [1.01, [0.78, 0.9, 1.01, 1.13, 1.24, 1.36, 1.46]],
  [1.06, [0.88, 0.99, 1.11, 1.22, 1.34, 1.45, 1.5]],
  [1.11, [0.89, 1.01, 1.12, 1.24, 1.35, 1.47, 1.55]],
  [1.16, [0.99, 1.1, 1.22, 1.33, 1.45, 1.56]],
  [1.21, [1.0, 1.12, 1.23, 1.35, 1.46, 1.58]],
  [1.26, [1.1, 1.21, 1.33, 1.44, 1.56, 1.66]],
  [1.31, [1.11, 1.23, 1.34, 1.46, 1.57, 1.69]],
  [1.36, [1.21, 1.32, 1.44, 1.55, 1.67, 1.74]],
]

const XI_ILC: Pt[] = [
  [2.64, 3.44], [2.02, 2.59], [1.83, 2.53], [1.95, 2.5], [2.29, 0.94], [-2.01, -0.76], [-1.63, -1.25],
  [-1.87, -1.6], [-2.32, -1.53], [-2.32, -1.88], [-2.03, -2.1], [-1.34, -2.1], [-3.18, -1.6], [-3.09, -2.17],
  [-4.14, -2.27], [-4.36, -2.94], [-4.59, -3.4], [-5.02, -3.46], [-4.67, -3.76], [-4.89, -4.03], [-5.1, -4.52],
  [-5.47, -4.71], [-5.42, -5.03], [-5.56, -4.8], [-5.25, -4.71], [-5.37, -4.86], [-5.5, -4.9],
  [-0.24, -1.39], [0.1, -1.6], [0.29, -1.56], [0.1, -0.66], [0.56, -0.29], [0.62, 0.1], [0.96, 0.8],
  [1.33, 0.76], [1.25, 1.2], [-1.05, -1.6], [-1.5, -1.2], [-1.45, -1.45], [-1.55, -1.55], [-1.6, -1.35],
  [-1.4, -1.85], [-1.48, -1.7], [-1.7, -1.45], [-1.75, -1.62], [-0.59, 0.05], [-0.86, -0.4], [-0.09, -0.9],
]

const XI_BAND: Col[] = [
  [-1.3, [-1.8, -1.55, -1.3, -1.05]], [-1.28, [-1.6, -1.37]], [-1.26, [-1.65, -1.4, -1.15]],
  [-1.22, [-1.72, -1.45, -1.2, -0.98]], [-1.2, [-1.5, -1.27]], [-1.18, [-1.55, -1.3, -1.05]],
  [-1.14, [-1.62, -1.35, -1.1, -0.88]], [-1.12, [-1.41, -1.18]], [-1.1, [-1.45, -1.2, -0.95]],
  [-1.06, [-1.52, -1.25, -1.0, -0.8]], [-1.04, [-1.31, -1.08]], [-1.02, [-1.35, -1.1, -0.86]],
  [-0.98, [-1.42, -1.15, -0.92, -0.7]], [-0.96, [-1.21, -0.98]], [-0.94, [-1.25, -1.0, -0.76]],
  [-0.9, [-1.32, -1.05, -0.82, -0.6]], [-0.88, [-1.11, -0.88]], [-0.86, [-1.15, -0.9, -0.66]],
  [-0.82, [-1.22, -0.95, -0.72, -0.5]], [-0.8, [-1.02, -0.79]], [-0.78, [-1.05, -0.82, -0.56]],
  [-0.74, [-1.12, -0.85, -0.62, -0.42]], [-0.72, [-0.92, -0.69]], [-0.7, [-0.95, -0.72, -0.47]],
  [-0.66, [-1.02, -0.76, -0.52, -0.32]], [-0.64, [-0.82, -0.59]], [-0.62, [-0.85, -0.62, -0.38]],
  [-0.58, [-0.92, -0.66, -0.44, -0.22]], [-0.56, [-0.73, -0.5]], [-0.54, [-0.76, -0.52, -0.28]],
  [-0.5, [-0.82, -0.56, -0.34, -0.14]], [-0.48, [-0.63, -0.4]], [-0.46, [-0.66, -0.42, -0.18]],
  [-0.42, [-0.72, -0.46, -0.25, -0.04]], [-0.4, [-0.53, -0.3]], [-0.38, [-0.56, -0.32, -0.08]],
  [-0.34, [-0.62, -0.36, -0.15, 0.06]], [-0.32, [-0.44, -0.21]], [-0.3, [-0.46, -0.22, 0.01]],
  [-0.26, [-0.52, -0.26, -0.05, 0.16]], [-0.24, [-0.34, -0.11]], [-0.22, [-0.36, -0.12, 0.1]],
  [-0.18, [-0.42, -0.18, 0.04, 0.25]], [-0.16, [-0.24, -0.01]], [-0.14, [-0.26, -0.03, 0.2]],
  [-0.1, [-0.32, -0.08, 0.14, 0.34]], [-0.08, [-0.15, 0.08]], [-0.06, [-0.16, 0.06, 0.3]],
  [-0.02, [-0.22, 0.02, 0.24, 0.43]], [0.0, [-0.05, 0.18]], [0.02, [-0.06, 0.16, 0.38]],
  [0.06, [-0.12, 0.12, 0.32, 0.52]], [0.08, [0.05, 0.28]], [0.1, [0.04, 0.26, 0.48]],
  [0.14, [-0.02, 0.22, 0.42, 0.62]], [0.16, [0.14, 0.37]], [0.18, [0.14, 0.36, 0.57]],
  [0.22, [0.08, 0.32, 0.52, 0.7]], [0.24, [0.24, 0.47]], [0.26, [0.24, 0.45, 0.66]],
  [0.3, [0.18, 0.42, 0.6, 0.8]], [0.32, [0.34, 0.57]], [0.34, [0.34, 0.55, 0.76]],
  [0.38, [0.28, 0.52, 0.7, 0.9]], [0.4, [0.43, 0.66]], [0.42, [0.44, 0.64, 0.84]],
  [0.46, [0.38, 0.62, 0.8, 0.98]], [0.48, [0.53, 0.76]], [0.5, [0.54, 0.74, 0.94]],
  [0.54, [0.48, 0.72, 0.9, 1.08]], [0.56, [0.63, 0.86]], [0.58, [0.64, 0.84, 1.02]],
  [0.62, [0.58, 0.8, 1.0, 1.18]], [0.64, [0.72, 0.95]], [0.66, [0.74, 0.93, 1.12]],
  [0.7, [0.7, 0.9, 1.08, 1.26]], [0.72, [0.82, 1.05]], [0.74, [0.84, 1.03, 1.2]],
  [0.78, [0.8, 1.0, 1.18, 1.35]], [0.8, [0.92, 1.15]], [0.82, [0.94, 1.12, 1.3]],
  [0.86, [0.9, 1.1, 1.28, 1.44]], [0.88, [1.01, 1.24]], [0.9, [1.04, 1.22, 1.38]],
  [0.94, [1.0, 1.2, 1.38, 1.54]], [0.96, [1.11, 1.34]], [0.98, [1.14, 1.32, 1.48]],
  [1.02, [1.1, 1.3, 1.46, 1.62]], [1.04, [1.21, 1.44]], [1.06, [1.24, 1.41, 1.58]],
  [1.1, [1.22, 1.4, 1.56, 1.72]], [1.12, [1.31, 1.54]], [1.14, [1.35, 1.51, 1.66]],
  [1.18, [1.32, 1.5, 1.66, 1.8]], [1.2, [1.4, 1.63]], [1.22, [1.45, 1.61, 1.76]],
  [1.26, [1.42, 1.6, 1.75, 1.88]], [1.28, [1.5, 1.73]], [1.3, [1.56, 1.7, 1.84]],
  [1.34, [1.54, 1.7, 1.85, 1.98]], [1.36, [1.6, 1.83]], [1.38, [1.66, 1.8, 1.92]],
  [1.42, [1.65, 1.8, 1.95, 2.06]], [1.44, [1.69, 1.92]], [1.46, [1.78, 1.9, 2.0]],
  [1.5, [1.76, 1.9, 2.04]], [1.52, [1.79, 2.02]], [1.54, [1.88, 2.0, 2.08]],
  [1.58, [1.88, 2.0, 2.14]], [1.6, [1.92, 2.1]], [1.62, [2.0, 2.1]],
  [1.66, [2.0, 2.12, 2.24]], [1.68, [2.04, 2.2]], [1.7, [2.1, 2.2]],
  [1.74, [2.12, 2.24, 2.34]], [1.76, [2.16, 2.3]], [1.78, [2.2, 2.3]],
  [1.82, [2.24, 2.36, 2.45]], [1.84, [2.28, 2.4]], [1.86, [2.32, 2.42]], [1.9, [2.38, 2.48]],
]

const THETA_DLC_X_TICKS = [-2, -1, 0, 1, 2]
const THETA_DLC_Y_TICKS = [-2, -1, 0, 1, 2]
const THETA_ILC_X_TICKS = [-3, -2, -1, 0, 1, 2]
const THETA_ILC_Y_TICKS = [-2, -1, 0, 1, 2]
const ETA_X_TICKS = [-3, -2, -1, 0, 1]
const ETA_Y_TICKS = [-4, -3, -2, -1, 0, 1, 2]
const ETA_Y_LABELS = [-4, -2, 0, 2]
const XI_X_TICKS = [-4, -2, 0, 2]
const XI_Y_TICKS = [-4, -2, 0, 2]

const W = 456
const H = 450

const withBand = (pts: Pt[], ...colSets: Col[][]) => [
  ...pts.map(([x, y]) => ({ x, y })),
  ...colSets.flatMap((cols) => cols.flatMap(([x, ys]) => ys.map((y) => ({ x, y })))),
]

function Ring(props: any) {
  return <circle cx={props.cx} cy={props.cy} r={4} fill="none" stroke="#000" strokeWidth={1.2} />
}

function XTick({ x, y, payload }: any) {
  return (
    <text x={x} y={y + 38} textAnchor="middle" fontSize={24} fontFamily={FONT} fill="#000">
      {payload.value}
    </text>
  )
}

const makeYTick = (labels: number[]) => ({ x, y, payload }: any) => {
  if (!labels.includes(payload.value)) return <g />
  const bx = x - 17
  return (
    <text x={bx} y={y} transform={`rotate(-90 ${bx} ${y})`} textAnchor="middle" fontSize={24} fontFamily={FONT} fill="#000">
      {payload.value}
    </text>
  )
}

interface PanelProps {
  left: number
  top: number
  greek: string
  xLabel: string
  yLabel: string
  data: { x: number; y: number }[]
  xDomain: [number, number]
  yDomain: [number, number]
  xTicks: number[]
  yTicks: number[]
  yLabels?: number[]
  box: { x: number; y: number; w: number; h: number }
  labelGap: number
}

function Panel(p: PanelProps) {
  const { box } = p
  const margin = { top: box.y, left: box.x - 60, right: W - box.x - box.w, bottom: H - box.y - box.h - 60 }
  const cx = box.x + box.w / 2
  const cy = box.y + box.h / 2
  const ylx = box.x - 91
  return (
    <div style={{ position: 'absolute', left: p.left, top: p.top, width: W, height: H }}>
      <ScatterChart width={W} height={H} margin={margin}>
        <XAxis type="number" dataKey="x" domain={p.xDomain} ticks={p.xTicks} interval={0} allowDataOverflow
          height={60} tickSize={14} tickMargin={2} axisLine={false} stroke="#000" tickLine={{ stroke: '#000' }} tick={XTick} />
        <YAxis type="number" dataKey="y" domain={p.yDomain} ticks={p.yTicks} interval={0} allowDataOverflow
          width={60} tickSize={14} tickMargin={2} axisLine={false} stroke="#000" tickLine={{ stroke: '#000' }}
          tick={makeYTick(p.yLabels ?? p.yTicks)} />
        <Scatter data={p.data} shape={Ring} isAnimationActive={false} />
      </ScatterChart>
      <svg width={W} height={H} style={{ position: 'absolute', left: 0, top: 0, pointerEvents: 'none' }}>
        <rect x={box.x + 0.5} y={box.y + 0.5} width={box.w} height={box.h} fill="none" stroke="#000" strokeWidth={1} />
        <text x={cx} y={box.y - 50} textAnchor="middle" fontSize={29} fontFamily={FONT} fill="#000">
          <tspan fontFamily={GREEK_FONT}>{p.greek}</tspan> parameters
        </text>
        <text x={cx} y={box.y + box.h + p.labelGap} textAnchor="middle" fontSize={24} fontFamily={FONT} fill="#000">
          {p.xLabel}
        </text>
        <text x={ylx} y={cy} transform={`rotate(-90 ${ylx} ${cy})`} textAnchor="middle" fontSize={24} fontFamily={FONT} fill="#000">
          {p.yLabel}
        </text>
      </svg>
    </div>
  )
}

export default function App() {
  return (
    <div style={{ position: 'absolute', left: 0, top: 0, width: 912, height: 899, background: '#fff', overflow: 'hidden' }}>
      <Panel left={0} top={0} greek="θ" xLabel="DLC-SL-IRT" yLabel="DLC-TL-IRT"
        data={withBand(THETA_DLC, THETA_DLC_BAND, THETA_DLC_EDGE)}
        xDomain={[-2.663, 2.003]} yDomain={[-2.484, 2.063]} xTicks={THETA_DLC_X_TICKS} yTicks={THETA_DLC_Y_TICKS}
        box={{ x: 121, y: 81, w: 305, h: 216 }} labelGap={112} />
      <Panel left={456} top={0} greek="θ" xLabel="ILC-RE-IRT" yLabel="ILC-RI-IRT"
        data={withBand(THETA_ILC, THETA_ILC_BAND, THETA_ILC_EDGE)}
        xDomain={[-3.207, 2.017]} yDomain={[-2.775, 2.213]} xTicks={THETA_ILC_X_TICKS} yTicks={THETA_ILC_Y_TICKS}
        box={{ x: 151, y: 81, w: 303, h: 217 }} labelGap={112} />
      <Panel left={0} top={450} greek="η" xLabel="ILC-RE-IRT" yLabel="ILC-RI-IRT"
        data={withBand(ETA_ILC, ETA_BAND, ETA_FILL)}
        xDomain={[-3.403, 1.57]} yDomain={[-4.29, 2.689]} xTicks={ETA_X_TICKS} yTicks={ETA_Y_TICKS} yLabels={ETA_Y_LABELS}
        box={{ x: 121, y: 117, w: 305, h: 216 }} labelGap={110} />
      <Panel left={456} top={450} greek="ξ" xLabel="ILC-RE-IRT" yLabel="ILC-RI-IRT"
        data={withBand(XI_ILC, XI_BAND)}
        xDomain={[-5.88, 2.93]} yDomain={[-5.4, 3.748]} xTicks={XI_X_TICKS} yTicks={XI_Y_TICKS}
        box={{ x: 151, y: 117, w: 303, h: 216 }} labelGap={110} />
    </div>
  )
}
